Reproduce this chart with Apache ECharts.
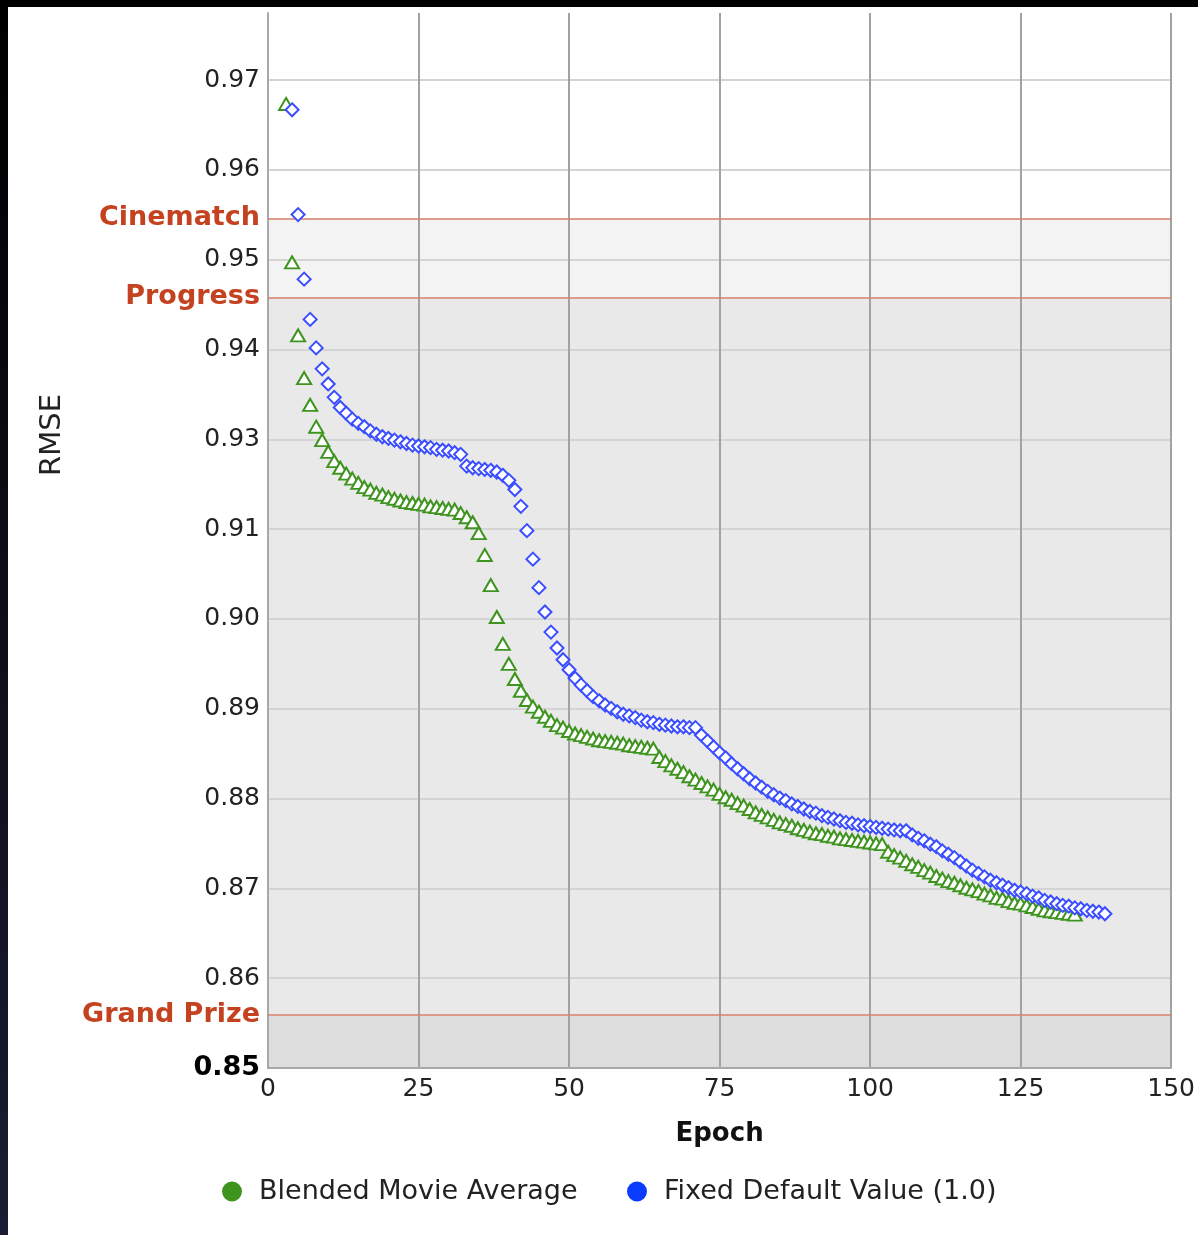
<!DOCTYPE html>
<html>
<head>
<meta charset="utf-8">
<script src="https://cdn.jsdelivr.net/npm/echarts@6/dist/echarts.min.js"></script>
<style>
html,body{margin:0;padding:0;background:#ffffff;}
#chart{width:1198px;height:1235px;}
</style>
</head>
<body>
<div id="chart"></div>
<script>
// ---------- data ----------
const yTickLabels = ['0.85','0.86','0.87','0.88','0.89','0.90','0.91','0.93','0.94','0.95','0.96','0.97'];
const xTickValues = [0, 25, 50, 75, 100, 125, 150];

const bandNames  = ['Cinematch', 'Progress', 'Grand Prize'];
const bandValues = [0.9514, 0.9419, 0.8563];

const greenName = 'Blended Movie Average';
const greenEpochs = [3,4,5,6,7,8,9,10,11,12,13,14,15,16,17,18,19,20,21,22,23,24,25,26,27,28,29,30,31,32,33,34,35,36,37,38,39,40,41,42,43,44,45,46,47,48,49,50,51,52,53,54,55,56,57,58,59,60,61,62,63,64,65,66,67,68,69,70,71,72,73,74,75,76,77,78,79,80,81,82,83,84,85,86,87,88,89,90,91,92,93,94,95,96,97,98,99,100,101,102,103,104,105,106,107,108,109,110,111,112,113,114,115,116,117,118,119,120,121,122,123,124,125,126,127,128,129,130,131,132,133,134];
const greenRMSE = [0.9650,0.9461,0.9374,0.9323,0.9291,0.9265,0.9249,0.9235,0.9224,0.9216,
  0.9209,0.9203,0.9198,0.9193,0.9190,0.9186,0.9184,0.9181,0.9179,0.9177,
  0.9175,0.9174,0.9173,0.9172,0.9170,0.9169,0.9168,0.9167,0.9166,0.9162,
  0.9157,0.9151,0.9138,0.9112,0.9076,0.9038,0.9006,0.8982,0.8964,0.8950,
  0.8939,0.8931,0.8925,0.8919,0.8914,0.8909,0.8906,0.8902,0.8899,0.8897,
  0.8895,0.8893,0.8891,0.8890,0.8889,0.8888,0.8887,0.8885,0.8884,0.8883,
  0.8882,0.8881,0.8871,0.8866,0.8861,0.8857,0.8853,0.8848,0.8844,0.8840,
  0.8836,0.8832,0.8827,0.8823,0.8820,0.8816,0.8813,0.8809,0.8805,0.8802,
  0.8799,0.8796,0.8793,0.8791,0.8789,0.8786,0.8784,0.8782,0.8780,0.8779,
  0.8777,0.8776,0.8774,0.8773,0.8772,0.8771,0.8770,0.8769,0.8768,0.8767,
  0.8758,0.8754,0.8751,0.8747,0.8743,0.8740,0.8736,0.8733,0.8729,0.8726,
  0.8723,0.8721,0.8718,0.8715,0.8713,0.8711,0.8708,0.8706,0.8703,0.8702,
  0.8699,0.8697,0.8696,0.8694,0.8692,0.8690,0.8688,0.8687,0.8686,0.8685,
  0.8684,0.8683];

const blueName = 'Fixed Default Value (1.0)';
const blueEpochs = [4,5,6,7,8,9,10,11,12,13,14,15,16,17,18,19,20,21,22,23,24,25,26,27,28,29,30,31,32,33,34,35,36,37,38,39,40,41,42,43,44,45,46,47,48,49,50,51,52,53,54,55,56,57,58,59,60,61,62,63,64,65,66,67,68,69,70,71,72,73,74,75,76,77,78,79,80,81,82,83,84,85,86,87,88,89,90,91,92,93,94,95,96,97,98,99,100,101,102,103,104,105,106,107,108,109,110,111,112,113,114,115,116,117,118,119,120,121,122,123,124,125,126,127,128,129,130,131,132,133,134,135,136,137,138,139];
const blueRMSE = [0.9643,0.9518,0.9441,0.9393,0.9359,0.9334,0.9316,0.9300,0.9288,0.9281,
  0.9274,0.9269,0.9265,0.9260,0.9256,0.9253,0.9251,0.9249,0.9247,0.9245,
  0.9243,0.9242,0.9241,0.9240,0.9238,0.9237,0.9236,0.9234,0.9232,0.9218,
  0.9216,0.9215,0.9214,0.9213,0.9211,0.9207,0.9201,0.9190,0.9170,0.9141,
  0.9107,0.9073,0.9044,0.9020,0.9001,0.8987,0.8975,0.8965,0.8957,0.8950,
  0.8943,0.8938,0.8933,0.8929,0.8925,0.8922,0.8920,0.8918,0.8915,0.8913,
  0.8912,0.8910,0.8909,0.8908,0.8907,0.8907,0.8906,0.8906,0.8897,0.8890,
  0.8883,0.8876,0.8870,0.8863,0.8857,0.8851,0.8845,0.8840,0.8835,0.8830,
  0.8826,0.8822,0.8819,0.8815,0.8812,0.8809,0.8806,0.8804,0.8801,0.8799,
  0.8797,0.8795,0.8793,0.8792,0.8790,0.8789,0.8788,0.8787,0.8786,0.8785,
  0.8784,0.8783,0.8783,0.8778,0.8774,0.8771,0.8767,0.8764,0.8759,0.8755,
  0.8751,0.8746,0.8741,0.8736,0.8732,0.8728,0.8724,0.8721,0.8718,0.8715,
  0.8712,0.8710,0.8708,0.8705,0.8703,0.8700,0.8698,0.8696,0.8694,0.8693,
  0.8691,0.8690,0.8688,0.8687,0.8686,0.8684];

const yAxisTitle = 'RMSE';
const xAxisTitle = 'Epoch';

// ---------- axis mapping (original chart's ticks are evenly spaced every 0.075/7 RMSE from 0.85) ----------
const Y_BASE = 0.85;
const Y_STEP = 0.075 / 7;
const Y_TOP = 0.97585;
const toTick = v => (v - Y_BASE) / Y_STEP;

const FONT = 'DejaVu Sans';
const GREEN = '#3f9420';
const BLUE = '#3a4dff';
const BAND_TEXT = '#c4421f';
const BAND_LINE = '#d4806c';

const chart = echarts.init(document.getElementById('chart'), null, {renderer: 'canvas'});

const option = {
  backgroundColor: '#ffffff',
  animation: false,
  textStyle: {fontFamily: FONT},
  grid: {left: 268, top: 13, width: 904, height: 1055, containLabel: false},
  graphic: [
    {type: 'rect', z: 100, shape: {x: 0, y: 0, width: 1198, height: 7}, style: {fill: '#000000'}},
    {type: 'rect', z: 100, shape: {x: 0, y: 0, width: 8, height: 1235},
     style: {fill: new echarts.graphic.LinearGradient(0, 0, 0, 1, [{offset: 0, color: '#000000'}, {offset: 1, color: '#1b1b33'}])}},
    {type: 'text', z: 100, x: 52, y: 435, rotation: Math.PI / 2,
     style: {text: yAxisTitle, fontSize: 29, fontFamily: FONT, fill: '#222222',
             align: 'center', verticalAlign: 'middle', textAlign: 'center', textVerticalAlign: 'middle'}}
  ],
  xAxis: {
    type: 'value', min: xTickValues[0], max: xTickValues[xTickValues.length - 1],
    interval: xTickValues[1] - xTickValues[0],
    z: 1.5,
    axisLine: {show: true, onZero: false, lineStyle: {color: '#a8a8a8', width: 2}},
    axisTick: {show: false},
    axisLabel: {fontSize: 25, color: '#222222', margin: 9, fontFamily: FONT},
    splitLine: {show: true, lineStyle: {color: '#a2a2a2', width: 2}},
    name: xAxisTitle, nameLocation: 'middle', nameGap: 53,
    nameTextStyle: {fontSize: 26, fontWeight: 'bold', color: '#111111', fontFamily: FONT}
  },
  yAxis: {
    type: 'value', min: 0, max: toTick(Y_TOP), interval: 1,
    z: 1.5,
    axisLine: {show: true, lineStyle: {color: '#a8a8a8', width: 2}},
    axisTick: {show: false},
    axisLabel: {
      fontSize: 25, color: '#222222', margin: 8, fontFamily: FONT, showMaxLabel: false,
      formatter: function (v) {
        const i = Math.round(v);
        if (Math.abs(v - i) > 1e-6 || i >= yTickLabels.length) return '';
        return i === 0 ? '{b|' + yTickLabels[0] + '}' : yTickLabels[i];
      },
      rich: {b: {fontSize: 27, fontWeight: 'bold', color: '#000000', fontFamily: FONT}}
    },
    splitLine: {show: true, showMaxLine: false, lineStyle: {color: '#d4d4d4', width: 2}}
  },
  legend: [
    {data: [{name: greenName, icon: 'circle', itemStyle: {color: GREEN, borderWidth: 0}}],
     left: 217, top: 1173, itemWidth: 44, itemHeight: 20,
     textStyle: {fontSize: 27, color: '#222222', fontFamily: FONT}},
    {data: [{name: blueName, icon: 'circle', itemStyle: {color: '#0a3cff', borderWidth: 0}}],
     left: 622, top: 1173, itemWidth: 44, itemHeight: 20,
     textStyle: {fontSize: 27, color: '#222222', fontFamily: FONT}}
  ],
  series: [
    {
      name: greenName, type: 'scatter', z: 3,
      symbol: 'triangle', symbolSize: [14, 12],
      itemStyle: {color: '#ffffff', borderColor: GREEN, borderWidth: 2, opacity: 1},
      data: greenEpochs.map((e, i) => [e, toTick(greenRMSE[i])]),
      markArea: {
        silent: true, z: 1,
        data: [
          [{yAxis: toTick(bandValues[0]), itemStyle: {color: '#f3f3f3'}}, {yAxis: toTick(bandValues[1])}],
          [{yAxis: toTick(bandValues[1]), itemStyle: {color: '#e9e9e9'}}, {yAxis: toTick(bandValues[2])}],
          [{yAxis: toTick(bandValues[2]), itemStyle: {color: '#dedede'}}, {yAxis: 0}]
        ]
      },
      markLine: {
        silent: true, symbol: 'none', z: 2,
        lineStyle: {color: BAND_LINE, width: 1.5, type: 'solid'},
        label: {position: 'start', distance: 8, formatter: '{b}', color: BAND_TEXT,
                fontWeight: 'bold', fontSize: 27, fontFamily: FONT, padding: [6, 0, 0, 0]},
        data: bandNames.map((n, i) => ({name: n, yAxis: toTick(bandValues[i])}))
      }
    },
    {
      name: blueName, type: 'scatter', z: 4,
      symbol: 'diamond', symbolSize: [13, 13],
      itemStyle: {color: '#ffffff', borderColor: BLUE, borderWidth: 2, opacity: 1},
      data: blueEpochs.map((e, i) => [e, toTick(blueRMSE[i])])
    }
  ]
};
chart.setOption(option);
</script>
</body>
</html>
